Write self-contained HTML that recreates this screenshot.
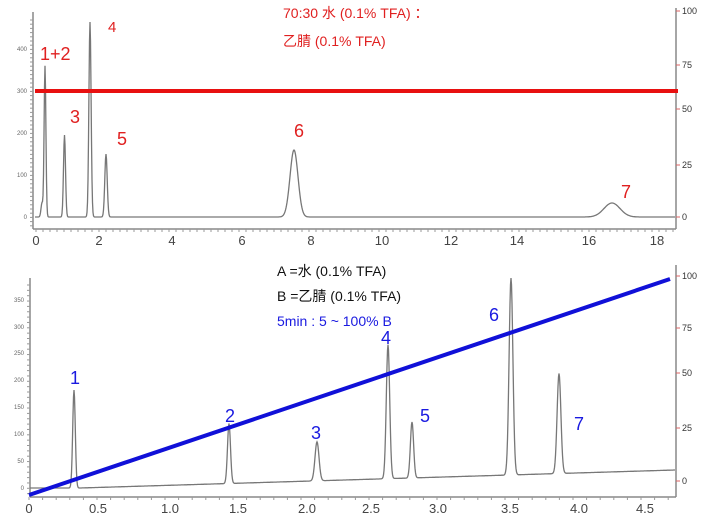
<!DOCTYPE html>
<html><head><meta charset="utf-8"><style>
html,body{margin:0;padding:0;background:#fff;}
svg{display:block;font-family:"Liberation Sans","Noto Sans CJK SC",sans-serif;}
</style></head><body>
<svg id="s" width="708" height="529" viewBox="0 0 708 529" xmlns="http://www.w3.org/2000/svg">
<g stroke="#888" stroke-width="1.5" fill="none">
<line x1="33" y1="12" x2="33" y2="229"/>
<line x1="33" y1="229" x2="676" y2="229"/>
<line x1="676" y1="8" x2="676" y2="229"/>
<line x1="30" y1="278" x2="30" y2="497"/>
<line x1="30" y1="497" x2="676" y2="497"/>
<line x1="676" y1="265" x2="676" y2="497"/>
</g>
<g id="ticks" stroke="#999" stroke-width="1"></g>
<g font-size="6" fill="#666" text-anchor="end">
<text x="27" y="219">0</text><text x="27" y="177">100</text><text x="27" y="135">200</text><text x="27" y="93">300</text><text x="27" y="51">400</text>
<text x="24" y="490">0</text><text x="24" y="463">50</text><text x="24" y="436">100</text><text x="24" y="409">150</text><text x="24" y="382">200</text><text x="24" y="355">250</text><text x="24" y="329">300</text><text x="24" y="302">350</text>
</g>
<g font-size="9" fill="#333">
<text x="682" y="14">100</text><text x="682" y="68">75</text><text x="682" y="112">50</text><text x="682" y="168">25</text><text x="682" y="220">0</text>
<text x="682" y="279">100</text><text x="682" y="331">75</text><text x="682" y="376">50</text><text x="682" y="431">25</text><text x="682" y="484">0</text>
</g>
<g stroke="#d66" stroke-width="1">
<line x1="676" y1="11" x2="680" y2="11"/><line x1="676" y1="65" x2="680" y2="65"/><line x1="676" y1="109" x2="680" y2="109"/><line x1="676" y1="165" x2="680" y2="165"/><line x1="676" y1="217" x2="680" y2="217"/>
<line x1="676" y1="276" x2="680" y2="276"/><line x1="676" y1="328" x2="680" y2="328"/><line x1="676" y1="373" x2="680" y2="373"/><line x1="676" y1="428" x2="680" y2="428"/><line x1="676" y1="481" x2="680" y2="481"/>
</g>
<g font-size="13" fill="#444" text-anchor="middle">
<text x="36" y="245">0</text><text x="99" y="245">2</text><text x="172" y="245">4</text><text x="242" y="245">6</text><text x="311" y="245">8</text><text x="382" y="245">10</text><text x="451" y="245">12</text><text x="517" y="245">14</text><text x="589" y="245">16</text><text x="657" y="245">18</text>
<text x="29" y="513">0</text><text x="98" y="513">0.5</text><text x="170" y="513">1.0</text><text x="238" y="513">1.5</text><text x="307" y="513">2.0</text><text x="371" y="513">2.5</text><text x="438" y="513">3.0</text><text x="510" y="513">3.5</text><text x="579" y="513">4.0</text><text x="645" y="513">4.5</text>
</g>
<path id="p1" fill="none" stroke="#777" stroke-width="1.3"/>
<path id="p2" fill="none" stroke="#777" stroke-width="1.3"/>
<line x1="35" y1="91" x2="678" y2="91" stroke="#e81010" stroke-width="4"/>
<line x1="29" y1="495" x2="670" y2="279" stroke="#1010d8" stroke-width="4"/>
<g fill="#e02020" font-size="18">
<text x="40" y="60">1+2</text><text x="70" y="123">3</text><text x="117" y="145">5</text><text x="294" y="137">6</text><text x="621" y="198">7</text>
</g>
<text x="108" y="32" fill="#e02020" font-size="15">4</text>
<g fill="#e02020" font-size="14"><text x="283" y="18">70:30 水 (0.1% TFA) ：</text><text x="283" y="46">乙腈 (0.1% TFA)</text></g>
<g fill="#111" font-size="14"><text x="277" y="276">A =水 (0.1% TFA)</text><text x="277" y="301">B =乙腈 (0.1% TFA)</text></g>
<text x="277" y="326" fill="#1a1ae0" font-size="14">5min : 5 ~ 100% B</text>
<g fill="#1a1ae0" font-size="18">
<text x="70" y="384">1</text><text x="225" y="422">2</text><text x="311" y="439">3</text><text x="381" y="344">4</text><text x="420" y="422">5</text><text x="489" y="321">6</text><text x="574" y="430">7</text>
</g>
</svg>
<script>
function path(x0,x1,base,peaks){let d="";for(let x=x0;x<=x1;x+=0.5){let y=base(x);for(const p of peaks){y-=p[1]*Math.exp(-((x-p[0])**2)/(2*p[2]*p[2]));}d+=(d?"L":"M")+x.toFixed(1)+","+y.toFixed(1);}return d;}
document.getElementById("p1").setAttribute("d",path(35,675,x=>217,[[42,14,1],[45,151,0.9],[64.5,82,1],[90,195,1.1],[106,63,1.2],[294,67,4],[612,14,8]]));
document.getElementById("p2").setAttribute("d",path(30,675,x=>x<80?488:488-(x-80)*18/595,[[74,98,1.3],[229,60,1.5],[317,39,2],[388,134,1.7],[412,56,1.6],[511,197,1.9],[559,100,1.9]]));
let t="";for(let x=36;x<676;x+=7)t+=`<line x1="${x}" y1="229" x2="${x}" y2="232"/>`;for(let y=20;y<229;y+=4.2)t+=`<line x1="30" y1="${y}" x2="33" y2="${y}"/>`;
for(let x=29;x<676;x+=13.6)t+=`<line x1="${x}" y1="497" x2="${x}" y2="500"/>`;for(let y=285;y<497;y+=5.35)t+=`<line x1="27" y1="${y}" x2="30" y2="${y}"/>`;
document.getElementById("ticks").innerHTML=t;
</script>
</body></html>
